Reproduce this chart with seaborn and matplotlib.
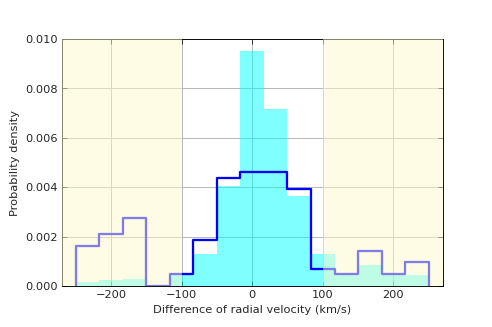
import numpy as np
import pandas as pd
import matplotlib
matplotlib.use("Agg")
import matplotlib.pyplot as plt
import seaborn as sns

# histogram bin edges (km/s), 15 bins of 100/3
bin_edges = list(np.linspace(-250, 250, 16))
bin_centers = [(a + b) / 2 for a, b in zip(bin_edges[:-1], bin_edges[1:])]

# filled (cyan) histogram heights, probability density
cyan_density = [0.00017, 0.00024, 0.00030, 0.0, 0.00050, 0.00128, 0.00404,
                0.00952, 0.00717, 0.00363, 0.00128, 0.00050, 0.00085,
                0.00044, 0.00044]

# outline (blue) histogram heights, probability density
blue_density = [0.00164, 0.00209, 0.00276, 0.0, 0.00050, 0.00188, 0.00438,
                0.00460, 0.00460, 0.00393, 0.00071, 0.00047, 0.00141,
                0.00047, 0.00097]

df = pd.DataFrame({"dv": bin_centers, "cyan": cyan_density, "blue": blue_density})

sns.set_style("ticks", {"xtick.direction": "in", "ytick.direction": "in",
                        "axes.grid": True, "grid.color": "0.7",
                        "axes.edgecolor": "black"})
plt.rcParams["font.family"] = ["DejaVu Sans"]
plt.rcParams["font.size"] = 10

fig, ax = plt.subplots(figsize=(6, 3.99), dpi=82)
fig.subplots_adjust(left=0.125, right=0.9, bottom=0.125, top=0.88)

sns.histplot(data=df, x="dv", weights="cyan", bins=bin_edges,
             element="bars", color="cyan", alpha=0.5, linewidth=0, ax=ax)
sns.histplot(data=df, x="dv", weights="blue", bins=bin_edges,
             element="step", fill=False, color="blue", linewidth=2, ax=ax)
# close the outline down to zero at the outer edges, like histtype="step"
ax.vlines([bin_edges[0], bin_edges[-1]], 0, [blue_density[0], blue_density[-1]],
          color="blue", linewidth=2)

ax.axvspan(-270, -100, color="lemonchiffon", alpha=0.5, lw=0, zorder=10)
ax.axvspan(100, 270, color="lemonchiffon", alpha=0.5, lw=0, zorder=10)

ax.set_xlim(-270, 270)
ax.set_ylim(0, 0.010)
ax.set_yticks(np.arange(0, 0.0101, 0.002))
ax.set_xticks([-200, -100, 0, 100, 200])
ax.yaxis.set_major_formatter(matplotlib.ticker.FormatStrFormatter("%.3f"))
ax.tick_params(top=True, right=True, length=4, labelsize=10)
ax.set_xlabel("Difference of radial velocity (km/s)", fontsize=10)
ax.set_ylabel("Probability density", fontsize=10)

fig.savefig("out.png", dpi=82)
